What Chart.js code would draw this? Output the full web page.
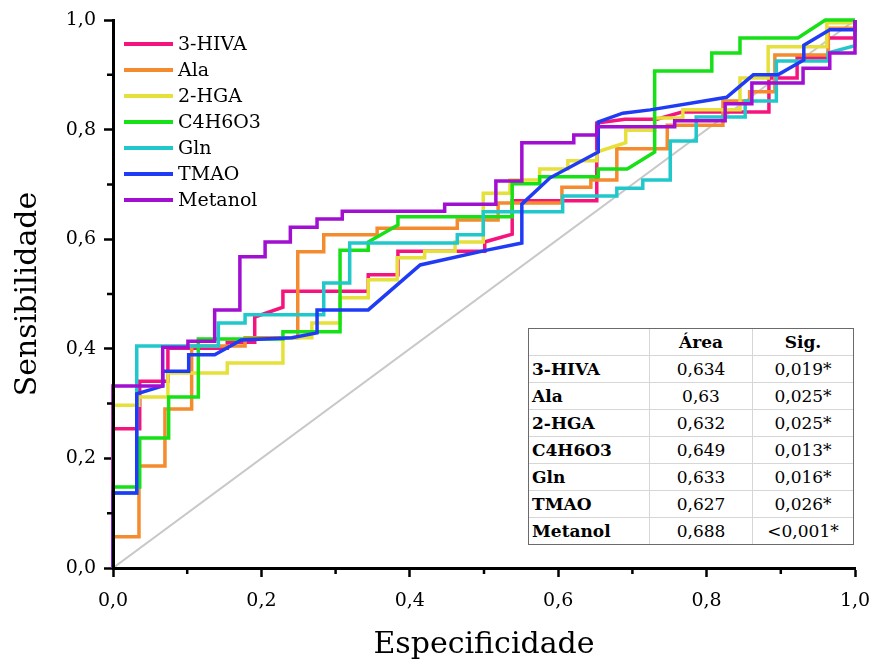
<!DOCTYPE html>
<html lang="pt">
<head>
<meta charset="utf-8">
<title>Curvas ROC</title>
<script src="https://cdn.jsdelivr.net/npm/chart.js@4.4.0/dist/chart.umd.min.js"></script>
<style>
  html, body { margin: 0; padding: 0; background: #fff; }
  #wrap { position: relative; width: 874px; height: 663px; font-family: "DejaVu Serif", serif; color: #000; }
  #roc { position: absolute; left: 0; top: 0; }
  #legend { position: absolute; left: 124px; top: 30px; }
  .leg-item { position: absolute; left: 0; height: 26px; line-height: 26px; font-size: 19px; white-space: nowrap; }
  .leg-line { display: inline-block; width: 49px; height: 4px; vertical-align: middle; margin-right: 5px; position: relative; top: -1px; }
  #aucBox { position: absolute; left: 528px; top: 328px; border: 1px solid #6a6a6a; background: #fff; }
  #auc { border-collapse: collapse; font-size: 17px; }
  #auc td { height: 26px; padding: 0 3px; border-right: 1px solid #d6d6d6; border-bottom: 1px solid #d6d6d6; text-align: center; }
  #auc td:last-child { border-right: none; }
  #auc tr:last-child td { border-bottom: none; }
  #auc td.name { text-align: left; font-weight: bold; width: 114px; }
  #auc td.val { width: 96px; }
  #auc td.sig { width: 94px; }
  #auc tr.head td { font-weight: bold; }
</style>
</head>
<body>
<div id="wrap">
  <canvas id="roc" width="874" height="663"></canvas>
  <div id="legend"></div>
  <div id="aucBox"><table id="auc"></table></div>
</div>
<script>
// ROC curves, points as [1 - especificidade, sensibilidade]
const hivaPts = [[0,0],[0,0.254],[0.036,0.254],[0.036,0.341],[0.074,0.341],[0.074,0.401],[0.154,0.401],[0.154,0.412],
  [0.191,0.412],[0.191,0.458],[0.229,0.476],[0.229,0.505],[0.344,0.505],[0.344,0.535],[0.384,0.535],[0.384,0.578],
  [0.501,0.578],[0.501,0.595],[0.538,0.609],[0.538,0.670],[0.652,0.670],[0.652,0.812],[0.690,0.819],[0.733,0.819],
  [0.767,0.832],[0.884,0.832],[0.884,0.894],[0.922,0.894],[0.922,0.931],[0.964,0.931],[0.964,0.967],[1,0.967],[1,1]];
const alaPts = [[0,0],[0,0.057],[0.035,0.057],[0.035,0.186],[0.070,0.186],[0.070,0.290],[0.106,0.290],[0.106,0.405],
  [0.178,0.405],[0.178,0.420],[0.249,0.420],[0.249,0.577],[0.284,0.577],[0.284,0.608],[0.356,0.608],[0.356,0.620],
  [0.464,0.620],[0.464,0.635],[0.519,0.635],[0.519,0.666],[0.605,0.666],[0.605,0.695],[0.644,0.695],[0.644,0.708],
  [0.679,0.708],[0.679,0.765],[0.747,0.765],[0.747,0.808],[0.822,0.808],[0.822,0.852],[0.858,0.852],[0.858,0.869],
  [0.892,0.869],[0.892,0.936],[0.964,0.936],[0.964,0.985],[1,0.985],[1,1]];
const hgaPts = [[0,0],[0,0.297],[0.035,0.297],[0.035,0.312],[0.074,0.312],[0.074,0.356],[0.154,0.356],[0.154,0.374],
  [0.229,0.374],[0.229,0.420],[0.268,0.420],[0.268,0.447],[0.306,0.447],[0.306,0.493],[0.344,0.493],[0.344,0.526],
  [0.383,0.526],[0.383,0.566],[0.420,0.566],[0.420,0.578],[0.461,0.578],[0.461,0.595],[0.499,0.595],[0.499,0.684],
  [0.535,0.684],[0.535,0.708],[0.575,0.708],[0.575,0.728],[0.613,0.728],[0.613,0.743],[0.652,0.743],[0.652,0.759],
  [0.691,0.776],[0.691,0.799],[0.730,0.799],[0.730,0.821],[0.768,0.821],[0.768,0.836],[0.845,0.836],[0.845,0.894],
  [0.883,0.894],[0.883,0.951],[0.962,0.951],[0.962,0.995],[1,0.995],[1,1]];
const c4Pts = [[0,0],[0,0.148],[0.036,0.148],[0.036,0.237],[0.075,0.237],[0.075,0.312],[0.115,0.312],[0.115,0.418],
  [0.229,0.418],[0.229,0.431],[0.306,0.431],[0.306,0.580],[0.344,0.580],[0.344,0.595],[0.384,0.626],[0.384,0.641],
  [0.538,0.641],[0.538,0.701],[0.575,0.701],[0.575,0.714],[0.654,0.714],[0.654,0.728],[0.693,0.728],[0.730,0.759],
  [0.730,0.907],[0.807,0.907],[0.807,0.940],[0.845,0.940],[0.845,0.967],[0.923,0.967],[0.960,1],[1,1]];
const glnPts = [[0,0],[0,0.137],[0.032,0.137],[0.032,0.405],[0.142,0.405],[0.142,0.447],[0.178,0.447],[0.178,0.462],
  [0.284,0.462],[0.284,0.520],[0.319,0.520],[0.319,0.593],[0.464,0.593],[0.464,0.608],[0.499,0.608],[0.499,0.650],
  [0.606,0.650],[0.606,0.679],[0.679,0.679],[0.679,0.693],[0.714,0.693],[0.714,0.708],[0.751,0.708],[0.751,0.779],
  [0.786,0.779],[0.786,0.823],[0.852,0.823],[0.852,0.852],[0.894,0.852],[0.894,0.925],[0.964,0.925],[0.964,0.940],
  [1,0.953],[1,1]];
const tmaoPts = [[0,0],[0,0.137],[0.032,0.137],[0.032,0.318],[0.067,0.332],[0.067,0.359],[0.102,0.359],[0.102,0.389],
  [0.137,0.389],[0.173,0.416],[0.241,0.420],[0.275,0.429],[0.275,0.471],[0.344,0.471],[0.414,0.553],[0.504,0.580],
  [0.551,0.593],[0.551,0.664],[0.589,0.712],[0.654,0.759],[0.654,0.814],[0.687,0.830],[0.724,0.836],[0.827,0.859],
  [0.863,0.900],[0.896,0.900],[0.931,0.927],[0.931,0.954],[0.966,0.982],[1,0.982],[1,1]];
const metanolPts = [[0,0],[0,0.332],[0.067,0.332],[0.067,0.403],[0.101,0.403],[0.101,0.414],[0.137,0.414],[0.137,0.471],
  [0.171,0.471],[0.171,0.568],[0.205,0.568],[0.205,0.595],[0.239,0.595],[0.239,0.622],[0.275,0.622],[0.275,0.637],
  [0.309,0.637],[0.309,0.651],[0.447,0.651],[0.447,0.664],[0.516,0.664],[0.516,0.706],[0.551,0.706],[0.551,0.776],
  [0.621,0.776],[0.621,0.790],[0.652,0.790],[0.652,0.805],[0.757,0.805],[0.757,0.816],[0.825,0.816],[0.825,0.847],
  [0.861,0.847],[0.861,0.885],[0.930,0.885],[0.930,0.912],[0.966,0.912],[0.966,0.940],[1,0.940],[1,1]];
const refPts = [[0,0],[1,1]];

const seriesNames = ['3-HIVA', 'Ala', '2-HGA', 'C4H6O3', 'Gln', 'TMAO', 'Metanol'];
const seriesColors = ['#f5147e', '#f48b2f', '#e6e03a', '#16e016', '#20c8cc', '#1f3bf5', '#a10fd0'];
const areaValues = [0.634, 0.63, 0.632, 0.649, 0.633, 0.627, 0.688];
const sigValues = ['0,019*', '0,025*', '0,025*', '0,013*', '0,016*', '0,026*', '<0,001*'];

const FONT = '"DejaVu Serif", serif';
const comma = v => String(v).replace('.', ',');
const isMajor = v => Math.round(v * 10) % 2 === 0;

const seriesPts = [hivaPts, alaPts, hgaPts, c4Pts, glnPts, tmaoPts, metanolPts];
const datasets = seriesNames.map((name, i) => ({
  label: name,
  data: seriesPts[i].map(p => ({ x: p[0], y: p[1] })),
  borderColor: seriesColors[i],
  borderWidth: 3.5,
  borderJoinStyle: 'miter',
  showLine: true,
  pointRadius: 0,
  fill: false,
  tension: 0,
  clip: 4,
  order: seriesNames.length - i   // later series on top
}));
datasets.push({
  label: 'referência',
  data: refPts.map(p => ({ x: p[0], y: p[1] })),
  borderColor: '#c8c8c8',
  borderWidth: 2,
  showLine: true,
  pointRadius: 0,
  order: 99
});

// minor tick marks (0.1, 0.3, ...) are shorter than the labelled ones
const minorTicks = {
  id: 'minorTicks',
  afterDraw(chart) {
    const { ctx, scales: { x, y } } = chart;
    ctx.save();
    ctx.strokeStyle = '#000';
    ctx.lineWidth = 2.5;
    ctx.beginPath();
    x.ticks.forEach(t => {
      if (isMajor(t.value)) return;
      const p = x.getPixelForValue(t.value);
      ctx.moveTo(p, x.top); ctx.lineTo(p, x.top + 6);
    });
    y.ticks.forEach(t => {
      if (isMajor(t.value)) return;
      const p = y.getPixelForValue(t.value);
      ctx.moveTo(y.right, p); ctx.lineTo(y.right - 6, p);
    });
    ctx.stroke();
    ctx.restore();
  }
};

const axisCommon = {
  type: 'linear', min: 0, max: 1,
  border: { display: true, color: '#000', width: 3, z: 1 },
  grid: {
    drawOnChartArea: false, drawTicks: true, tickLength: 9, tickWidth: 2.5,
    tickColor: ctx => isMajor(ctx.tick.value) ? '#000' : 'rgba(0,0,0,0)'
  }
};

new Chart(document.getElementById('roc'), {
  type: 'scatter',
  data: { datasets },
  options: {
    responsive: false,
    animation: false,
    layout: { padding: { top: 20, right: 19, left: 0, bottom: 0 } },
    plugins: { legend: { display: false }, tooltip: { enabled: false } },
    scales: {
      x: {
        ...axisCommon,
        afterFit: s => { s.height = 95; s.paddingLeft = 0; s.paddingRight = 0; },
        ticks: {
          stepSize: 0.1, padding: 13, color: '#000', maxRotation: 0, autoSkip: false,
          font: { family: FONT, size: 19 },
          callback: v => isMajor(v) ? comma(v.toFixed(1)) : ''
        },
        title: { display: true, text: 'Especificidade', color: '#000', font: { family: FONT, size: 30 }, padding: { top: 0, bottom: 0 } }
      },
      y: {
        ...axisCommon,
        afterFit: s => { s.width = 113; s.paddingTop = 0; s.paddingBottom = 0; },
        ticks: {
          stepSize: 0.1, padding: 8, color: '#000', autoSkip: false,
          font: { family: FONT, size: 19 },
          callback: v => isMajor(v) ? comma(v.toFixed(1)) : ''
        },
        title: { display: true, text: 'Sensibilidade', color: '#000', font: { family: FONT, size: 30 }, padding: { top: 10, bottom: 0 } }
      }
    }
  },
  plugins: [minorTicks]
});

// legend inside the plot, top left
const legend = document.getElementById('legend');
seriesNames.forEach((name, i) => {
  const item = document.createElement('div');
  item.className = 'leg-item';
  item.style.top = (i * 26) + 'px';
  item.innerHTML = '<span class="leg-line" style="background:' + seriesColors[i] + '"></span>' + name;
  legend.appendChild(item);
});

// area / significance table
const table = document.getElementById('auc');
let rows = '<tr class="head"><td class="name"></td><td class="val">Área</td><td class="sig">Sig.</td></tr>';
seriesNames.forEach((name, i) => {
  rows += '<tr><td class="name">' + name + '</td><td class="val">' + comma(areaValues[i]) +
          '</td><td class="sig">' + sigValues[i] + '</td></tr>';
});
table.innerHTML = rows;
</script>
</body>
</html>
